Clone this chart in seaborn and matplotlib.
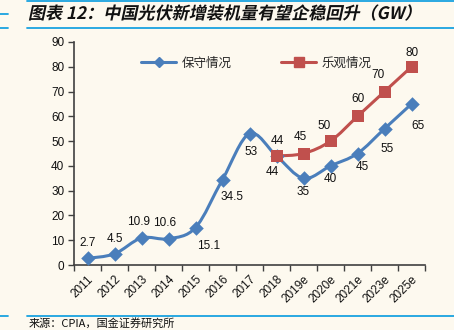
import numpy as np
import pandas as pd
import matplotlib
matplotlib.use("Agg")
import matplotlib.pyplot as plt
import seaborn as sns
from matplotlib.path import Path
from matplotlib.patches import PathPatch
from matplotlib.lines import Line2D
from matplotlib.patheffects import AbstractPathEffect
from matplotlib.transforms import Affine2D

# ---- data ----
years = ["2011", "2012", "2013", "2014", "2015", "2016", "2017", "2018",
         "2019e", "2020e", "2021e", "2023e", "2025e"]
conservative = [2.7, 4.5, 10.9, 10.6, 15.1, 34.5, 53, 44, 35, 40, 45, 55, 65]
optimistic_years = ["2018", "2019e", "2020e", "2021e", "2023e", "2025e"]
optimistic = [44, 45, 50, 60, 70, 80]
series_names = ["保守情况", "乐观情况"]

# label offsets in pixels (dx, dy), dy positive = up
cons_offsets = [(0, 15), (0, 15), (-3, 16), (-4, 16), (13, -18), (10, -17), (2, -18),
                (-4, -16), (0, -14), (0, -13), (5, -14), (3, -20), (6, -22)]
opt_offsets = [(1, 15), (-3, 16), (-6, 15), (1, 17), (-7, 17), (1, 14)]

BLUE = "#4a7ebb"
RED = "#c0504d"
BG = "#fdf9ef"
RULE = "#19a2e0"

sns.set_theme(style="white")
plt.rcParams["font.family"] = ["Liberation Sans", "Noto Sans CJK SC", "DejaVu Sans"]

fig = plt.figure(figsize=(4.54, 3.30), dpi=100, facecolor=BG)
ax = fig.add_axes([74 / 454, 1 - 265 / 330, (425 - 74) / 454, (265 - 42) / 330])
ax.set_facecolor(BG)

xpos = {y: i for i, y in enumerate(years)}
df_c = pd.DataFrame({"x": [xpos[y] for y in years], "v": conservative})
df_o = pd.DataFrame({"x": [xpos[y] for y in optimistic_years], "v": optimistic})


def smooth_path(xs, ys):
    """Catmull-Rom style cubic Bezier through the points."""
    pts = np.column_stack([xs, ys]).astype(float)
    n = len(pts)
    verts = [pts[0]]
    codes = [Path.MOVETO]
    for i in range(n - 1):
        p0 = pts[i - 1] if i > 0 else pts[i]
        p1 = pts[i]
        p2 = pts[i + 1]
        p3 = pts[i + 2] if i + 2 < n else pts[i + 1]
        c1 = p1 + (p2 - p0) / 6.0
        c2 = p2 - (p3 - p1) / 6.0
        verts += [c1, c2, p2]
        codes += [Path.CURVE4] * 3
    return Path(verts, codes)


for df, col in [(df_c, BLUE), (df_o, RED)]:
    ax.add_patch(PathPatch(smooth_path(df["x"], df["v"]), facecolor="none",
                           edgecolor=col, lw=2.2, zorder=2, capstyle="round"))

sns.scatterplot(data=df_c, x="x", y="v", marker="D", s=55, color=BLUE,
                edgecolor=BLUE, linewidth=0, ax=ax, zorder=3, legend=False)
sns.scatterplot(data=df_o, x="x", y="v", marker="s", s=85, color=RED,
                edgecolor=RED, linewidth=0, ax=ax, zorder=3, legend=False)

for (x, v), (dx, dy) in zip(df_c.values, cons_offsets):
    ax.annotate(f"{v:g}", (x, v), xytext=(dx, dy), textcoords="offset pixels",
                ha="center", va="center", fontsize=8.5, color="#111111", zorder=4)
for (x, v), (dx, dy) in zip(df_o.values, opt_offsets):
    ax.annotate(f"{v:g}", (x, v), xytext=(dx, dy), textcoords="offset pixels",
                ha="center", va="center", fontsize=8.5, color="#111111", zorder=4)

ax.set_xlim(-0.5, len(years) - 0.5)
ax.set_ylim(0, 90)
ax.set_yticks(range(0, 91, 10))
ax.set_xticks(range(len(years)))
ax.set_xticklabels(years, rotation=45, ha="right", rotation_mode="anchor")
ax.set_xticks(np.arange(-0.5, len(years), 1), minor=True)
ax.tick_params(axis="x", which="major", length=0, pad=6, labelsize=8.5, colors="#111111")
ax.tick_params(axis="x", which="minor", length=4, width=1, color="#404040", direction="out", bottom=True)
ax.tick_params(axis="y", length=4, width=1, color="#404040", direction="out", left=True,
               labelsize=8.5, labelcolor="#111111", pad=3)
ax.set_xlabel("")
ax.set_ylabel("")
for side in ["top", "right"]:
    ax.spines[side].set_visible(False)
for side in ["left", "bottom"]:
    ax.spines[side].set_color("#404040")
    ax.spines[side].set_linewidth(1.2)

handles = [Line2D([], [], color=BLUE, lw=2.2, marker="D", markersize=5),
           Line2D([], [], color=RED, lw=2.2, marker="s", markersize=7.5)]
ax.legend(handles, series_names, loc="center left", bbox_to_anchor=(0.16, 0.905),
          ncol=2, frameon=False, handlelength=2.8, columnspacing=4.0, handletextpad=0.4,
          prop={"family": ["Noto Sans CJK SC"], "size": 9})


class Oblique(AbstractPathEffect):
    """Slants glyph outlines to give an italic look."""
    def __init__(self, y0, deg=12):
        super().__init__()
        self.y0 = y0
        self.deg = deg

    def draw_path(self, renderer, gc, tpath, affine, rgbFace=None):
        sk = Affine2D().translate(0, -self.y0).skew_deg(self.deg, 0).translate(0, self.y0)
        renderer.draw_path(gc, tpath, affine + sk, rgbFace)


fig.text(29 / 454, 1 - 14 / 330, "图表 12：中国光伏新增装机量有望企稳回升（GW）",
         ha="left", va="center", fontsize=12.3, fontweight="bold", color="#111111",
         family=["Noto Sans CJK SC", "DejaVu Sans"],
         path_effects=[Oblique(330 - 14)])

# horizontal rules
for y in [1, 28, 316]:
    fig.add_artist(Line2D([27 / 454, 1], [1 - y / 330] * 2, color=RULE, lw=1.3))
for y in [14, 28, 316]:
    fig.add_artist(Line2D([0, 8 / 454], [1 - y / 330] * 2, color=RULE, lw=1.3))

fig.text(29 / 454, 1 - 323.5 / 330, "来源：CPIA，国金证券研究所", ha="left", va="center",
         fontsize=8, color="#111111", family=["Noto Sans CJK SC", "DejaVu Sans"])

fig.savefig("out.png", dpi=100, facecolor=BG)
